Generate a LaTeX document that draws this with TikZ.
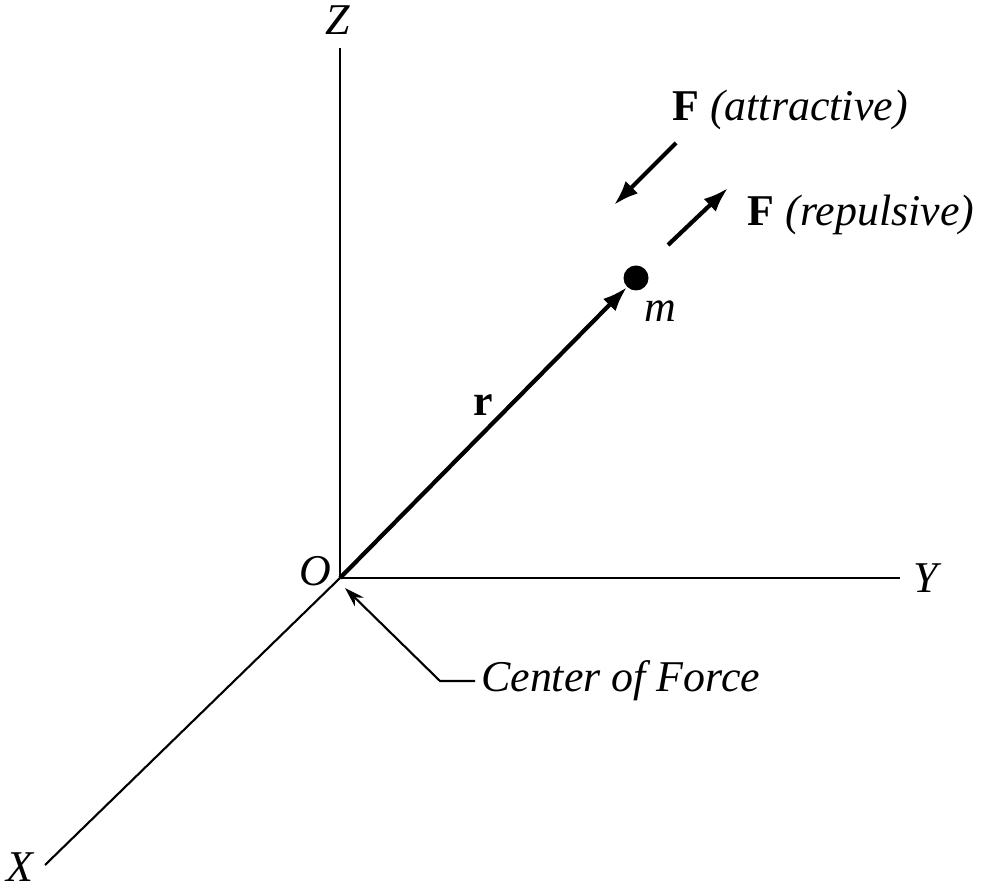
\documentclass[tikz,border=0pt]{standalone}
\usepackage{fontspec}
\setmainfont{Liberation Serif}
\usetikzlibrary{arrows.meta}
\begin{document}
\begin{tikzpicture}[font=\fontsize{25}{30}\selectfont,
  axis/.style={line width=1.2pt},
  vec/.style={line width=2.4pt,-{Latex[length=5mm,width=3.5mm]}}]
  \useasboundingbox (0,0) rectangle (19.66,17.84);
  % axes
  \coordinate (O) at (6.8,6.28);
  \coordinate (Zend) at (6.8,16.88);
  \coordinate (Yend) at (18,6.28);
  \coordinate (Xend) at (0.9,0.54);
  \draw[axis] (O) -- (Zend);
  \draw[axis] (O) -- (Yend);
  \draw[axis] (O) -- (Xend);
  \node (Z) at (6.76,17.44) {\textit{Z}};
  \node (Y) at (18.56,6.28) {\textit{Y}};
  \node[inner sep=1pt] (X) at (0.42,0.5) {\textit{X}};
  \node[anchor=east] (Olab) at (6.75,6.42) {\textit{O}};
  % particle and position vector
  \node[circle,fill,inner sep=0pt,minimum size=5mm] (m) at (12.72,12.28) {};
  \node (mlab) at (13.2,11.62) {\textit{m}};
  \draw[vec] (O) -- (m);
  \node (r) at (9.66,9.74) {\textbf{r}};
  % forces
  \coordinate (a1) at (13.52,14.98);
  \coordinate (a2) at (12.28,13.74);
  \draw[vec] (a1) -- (a2);
  \node (Fatt) at (15.8,15.64) {\textbf{F} \textit{(attractive)}};
  \coordinate (p1) at (13.36,12.94);
  \coordinate (p2) at (14.56,14.08);
  \draw[vec] (p1) -- (p2);
  \node (Frep) at (17.22,13.54) {\textbf{F} \textit{(repulsive)}};
  % center of force
  \node[anchor=west] (cof) at (9.5,4.22) {\textit{Center of Force}};
  \coordinate (bend) at (8.8,4.22);
  \coordinate (tip) at (6.9,6.08);
  \draw[axis,-{Stealth[length=4mm,width=2.5mm]}] (cof.west) -- (bend) -- (tip);
\end{tikzpicture}
\end{document}
